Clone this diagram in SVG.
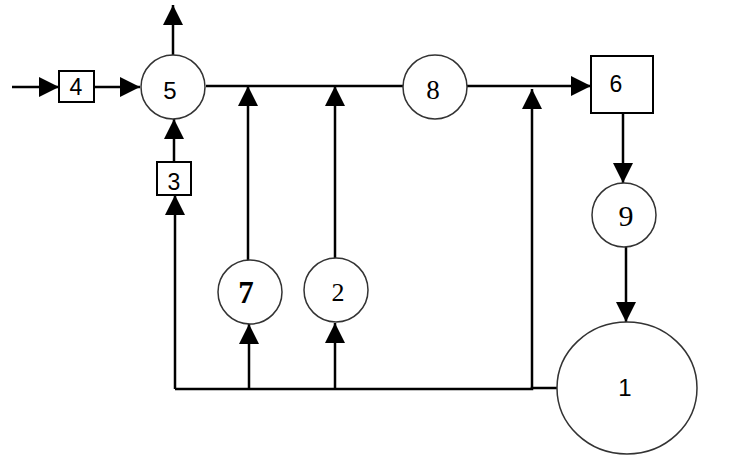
<svg xmlns="http://www.w3.org/2000/svg" width="735" height="457" viewBox="0 0 735 457">
<defs>
<marker id="ah" viewBox="0 0 20 20" refX="20" refY="10" markerWidth="20" markerHeight="20" markerUnits="userSpaceOnUse" orient="auto">
<path d="M0,0 L20,10 L0,20 Z" fill="#000"/>
</marker>
</defs>
<style>
.ln{stroke:#000;stroke-width:2.5;fill:none}
.nd{fill:#fff;stroke:#333;stroke-width:1.5}
.bx{fill:#fff;stroke:#000;stroke-width:2}
.sans{font-family:"Liberation Sans",Arial,sans-serif;font-size:23px;fill:#000;text-anchor:middle}
.serif{font-family:"Liberation Serif","Times New Roman",serif;font-size:27px;fill:#000;text-anchor:middle}
</style>
<g id="connectors">
<line class="ln" x1="12" y1="87" x2="59" y2="87" marker-end="url(#ah)"/>
<line class="ln" x1="94" y1="87" x2="140" y2="87" marker-end="url(#ah)"/>
<line class="ln" x1="173" y1="55" x2="173" y2="5" marker-end="url(#ah)"/>
<line class="ln" x1="174" y1="162" x2="174" y2="119" marker-end="url(#ah)"/>
<line class="ln" x1="206" y1="86" x2="404" y2="86"/>
<line class="ln" x1="467" y1="86" x2="591" y2="86" marker-end="url(#ah)"/>
<line class="ln" x1="623" y1="113" x2="623" y2="183" marker-end="url(#ah)"/>
<line class="ln" x1="626" y1="247" x2="626" y2="322" marker-end="url(#ah)"/>
<polyline class="ln" points="558,388 532,388 532,389 175,389"/>
<line class="ln" x1="175" y1="389" x2="175" y2="195" marker-end="url(#ah)"/>
<line class="ln" x1="532" y1="389" x2="532" y2="89" marker-end="url(#ah)"/>
<line class="ln" x1="249" y1="389" x2="249" y2="324" marker-end="url(#ah)"/>
<line class="ln" x1="335" y1="389" x2="335" y2="323" marker-end="url(#ah)"/>
<line class="ln" x1="248" y1="260" x2="248" y2="86" marker-end="url(#ah)"/>
<line class="ln" x1="335" y1="258" x2="335" y2="86" marker-end="url(#ah)"/>
</g>
<g id="n4"><rect class="bx" x="59" y="71" width="35" height="31"/><text class="sans" x="76" y="95">4</text></g>
<g id="n5"><circle class="nd" cx="173" cy="87" r="32"/><text class="sans" x="170" y="99" style="font-size:24px">5</text></g>
<g id="n3"><rect class="bx" x="157" y="162" width="34" height="33"/><text class="sans" x="174" y="190">3</text></g>
<g id="n8"><circle class="nd" cx="435" cy="87" r="32"/><text class="serif" x="433" y="99">8</text></g>
<g id="n6"><rect class="bx" x="591" y="56" width="62" height="57"/><text class="sans" x="616" y="92">6</text></g>
<g id="n9"><circle class="nd" cx="624" cy="215" r="32"/><text class="serif" x="626" y="226" style="font-size:30px">9</text></g>
<g id="n1"><ellipse class="nd" cx="627" cy="388" rx="70" ry="66"/><text class="sans" x="625" y="396" style="font-size:24px">1</text></g>
<g id="n7"><circle class="nd" cx="250" cy="292" r="32"/><text class="serif" x="246" y="303" style="font-size:31px;font-weight:bold">7</text></g>
<g id="n2"><circle class="nd" cx="336" cy="290" r="32"/><text class="serif" x="338" y="301" style="font-size:26px">2</text></g>
</svg>
